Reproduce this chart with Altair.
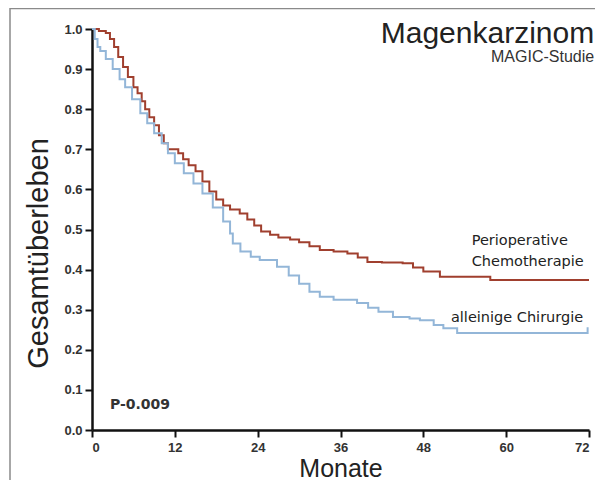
import altair as alt
import pandas as pd

# Kaplan-Meier curves (months, survival)
chemo_t = [0, 1.0, 2.0, 2.6, 3.2, 3.8, 4.5, 5.2, 6.0, 6.6, 7.2, 7.7, 8.3, 9.0, 9.7, 10.4, 11.0,
           12.5, 13.2, 14.0, 15.0, 16.0, 17.0, 18.0, 19.0, 20.0, 21.4, 22.5, 23.5, 24.5, 25.8,
           27.0, 28.7, 30.0, 31.5, 33.0, 35.0, 37.0, 38.5, 39.9, 42.0, 45.0, 46.5, 48.0, 50.4,
           57.7, 72.0]
chemo_s = [1.0, 0.995, 0.99, 0.975, 0.955, 0.93, 0.905, 0.88, 0.855, 0.84, 0.82, 0.80, 0.78, 0.76,
           0.735, 0.715, 0.70, 0.69, 0.675, 0.66, 0.645, 0.62, 0.595, 0.575, 0.56, 0.55, 0.54,
           0.525, 0.51, 0.495, 0.487, 0.48, 0.475, 0.468, 0.458, 0.449, 0.445, 0.44, 0.43, 0.419,
           0.418, 0.416, 0.405, 0.395, 0.382, 0.374, 0.374]

surg_t = [0, 0.4, 0.8, 1.2, 2.0, 3.0, 4.0, 4.8, 5.8, 7.0, 8.0, 9.0, 10.1, 11.0, 12.0, 13.3, 14.7,
          16.0, 17.5, 19.0, 20.0, 20.4, 21.5, 23.0, 24.3, 26.8, 28.5, 30.0, 31.5, 33.0, 35.0,
          38.4, 40.0, 41.5, 43.6, 46.0, 47.5, 49.5, 50.9, 52.9, 71.7, 71.8]
surg_s = [1.0, 0.975, 0.955, 0.945, 0.925, 0.90, 0.875, 0.855, 0.825, 0.79, 0.765, 0.74, 0.715,
          0.69, 0.665, 0.64, 0.615, 0.59, 0.555, 0.52, 0.49, 0.465, 0.445, 0.432, 0.424, 0.407,
          0.385, 0.365, 0.345, 0.332, 0.325, 0.317, 0.305, 0.295, 0.282, 0.278, 0.274, 0.262,
          0.254, 0.242, 0.242, 0.256]

x_ticks = [0, 12, 24, 36, 48, 60, 72]
y_ticks = [0.0, 0.1, 0.2, 0.3, 0.4, 0.5, 0.6, 0.7, 0.8, 0.9, 1.0]

title_text = "Magenkarzinom"
subtitle_text = "MAGIC-Studie"
p_text = "P-0.009"
label_chemo = ["Perioperative", "Chemotherapie"]
label_surg = "alleinige Chirurgie"

df = pd.concat([
    pd.DataFrame({"t": chemo_t, "s": chemo_s, "g": "chemo"}),
    pd.DataFrame({"t": surg_t, "s": surg_s, "g": "surg"}),
])

W, H = 497, 401
xs = alt.Scale(domain=[0, 72], nice=False, zero=False)
ys = alt.Scale(domain=[0, 1], nice=False)

lines = alt.Chart(df).mark_line(interpolate="step-after", strokeWidth=2, clip=False).encode(
    x=alt.X("t:Q", scale=xs, title="Monate",
            axis=alt.Axis(values=x_ticks, format="d", grid=False, domainWidth=2.5, domainColor="#111",
                          tickColor="#111", tickWidth=2, tickSize=7, labelPadding=4,
                          labelFont="Liberation Sans", labelFontWeight="bold", labelFontSize=13,
                          labelColor="#333", titleFont="Liberation Sans", titleFontSize=25,
                          titleFontWeight="normal", titleColor="#222", titlePadding=2)),
    y=alt.Y("s:Q", scale=ys, title="Gesamtüberleben",
            axis=alt.Axis(values=y_ticks, format=".1f", grid=False, domainWidth=2.5, domainColor="#111",
                          tickColor="#111", tickWidth=2, tickSize=7, labelPadding=3,
                          labelFont="Liberation Sans", labelFontWeight="bold", labelFontSize=13,
                          labelColor="#333", titleFont="Liberation Sans", titleFontSize=29,
                          titleFontWeight="normal", titleColor="#222", titlePadding=10,
                          titleY=224)),
    color=alt.Color("g:N", scale=alt.Scale(domain=["chemo", "surg"], range=["#a03f2e", "#93b6d8"]),
                    legend=None),
    detail="g:N",
)

ann = pd.DataFrame({
    "t": [72.75, 72.75, 2.6, 55.0, 55.0, 52.0],
    "s": [0.965, 0.918, 0.052, 0.461, 0.409, 0.269],
    "txt": [title_text, subtitle_text, p_text, label_chemo[0], label_chemo[1], label_surg],
    "k": ["title", "sub", "p", "lab", "lab", "lab"],
})

def text_layer(kind, **kw):
    return alt.Chart(ann[ann.k == kind]).mark_text(**kw).encode(
        x=alt.X("t:Q", scale=xs), y=alt.Y("s:Q", scale=ys), text="txt:N")

t_title = text_layer("title", align="right", baseline="alphabetic", font="Liberation Sans",
                     fontSize=30, color="#222")
t_sub = text_layer("sub", align="right", baseline="alphabetic", font="Liberation Sans",
                   fontSize=16, color="#333")
t_p = text_layer("p", align="left", baseline="alphabetic", font="DejaVu Sans", fontWeight="bold",
                 fontSize=14, color="#333")
t_lab = text_layer("lab", align="left", baseline="alphabetic", font="DejaVu Sans",
                   fontSize=14.5, color="#222")

frame_v = alt.Chart(pd.DataFrame({"a": [0]})).mark_rule(color="#8a8a8a", strokeWidth=1.5).encode(
    x=alt.value(-82), y=alt.value(-21), y2=alt.value(H + 80))
frame_h = alt.Chart(pd.DataFrame({"a": [0]})).mark_rule(color="#8a8a8a", strokeWidth=1.5).encode(
    x=alt.value(-82), x2=alt.value(W + 30), y=alt.value(-20.5))

chart = alt.layer(frame_v, frame_h, lines, t_title, t_sub, t_p, t_lab).properties(
    width=W, height=H,
    autosize=alt.AutoSizeParams(type="none"),
    padding={"left": 84, "top": 21, "right": 6, "bottom": 50},
    background="white",
).configure_view(stroke=None)

chart.save("out.html", embed_options={"renderer": "svg", "actions": False})
